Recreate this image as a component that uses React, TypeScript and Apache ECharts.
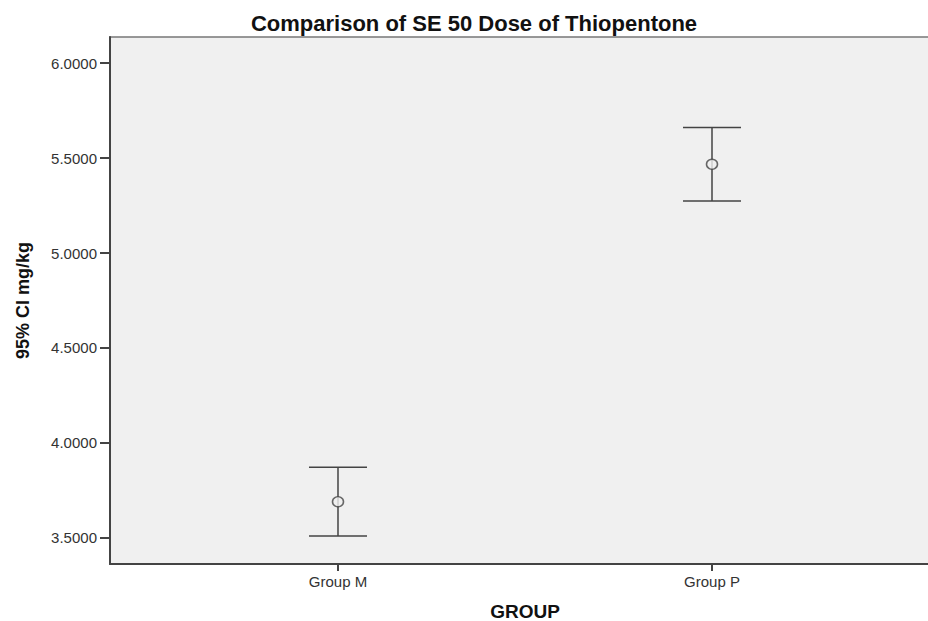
import React, { useEffect, useRef } from "react";
import * as echarts from "echarts";

const categories = ["Group M", "Group P"];
const positions = [1, 2];
const means = [3.691, 5.467];
const lowerCI = [3.511, 5.274];
const upperCI = [3.872, 5.66];
const yTicks = [3.5, 4.0, 4.5, 5.0, 5.5, 6.0];

export default function App() {
  const ref = useRef<HTMLDivElement>(null);
  useEffect(() => {
    if (!ref.current) return;
    const chart = echarts.init(ref.current, undefined, { renderer: "svg" });
    const errData = positions.map((p, i) => [p, lowerCI[i], upperCI[i]]);
    const meanData = positions.map((p, i) => [p, means[i]]);
    chart.setOption({
      animation: false,
      backgroundColor: "#ffffff",
      title: {
        text: "Comparison of SE 50 Dose of Thiopentone",
        left: 469,
        top: 7,
        textAlign: "center",
        textStyle: { fontFamily: "Liberation Sans", fontWeight: "bold", fontSize: 22, color: "#111" },
      },
      grid: {
        left: 110,
        top: 37,
        width: 830,
        height: 527,
        show: true,
        outerBoundsMode: "none",
        containLabel: false,
        backgroundColor: "#f0f0f0",
        borderColor: "#777",
        borderWidth: 1.5,
      },
      xAxis: {
        type: "value",
        min: 0.3904,
        max: 2.6096,
        name: "GROUP",
        nameLocation: "middle",
        nameGap: 38,
        nameTextStyle: { fontFamily: "Liberation Sans", fontWeight: "bold", fontSize: 19, color: "#111" },
        splitLine: { show: false },
        axisLine: { show: true, lineStyle: { color: "#444", width: 2 } },
        axisTick: { show: true, customValues: positions, length: 7, lineStyle: { color: "#444", width: 2 } },
        axisLabel: {
          customValues: positions,
          formatter: (v: number) => categories[positions.indexOf(v)] ?? "",
          fontFamily: "Liberation Sans",
          fontSize: 15,
          color: "#333",
          margin: 10,
        },
      },
      yAxis: {
        type: "value",
        min: 3.363,
        max: 6.137,
        name: "95% CI mg/kg",
        nameLocation: "middle",
        nameGap: 78,
        nameRotate: 90,
        nameTextStyle: { fontFamily: "Liberation Sans", fontWeight: "bold", fontSize: 18, color: "#111" },
        splitLine: { show: false },
        axisLine: { show: true, lineStyle: { color: "#444", width: 2 } },
        axisTick: { show: true, customValues: yTicks, length: 10, lineStyle: { color: "#444", width: 2 } },
        axisLabel: {
          customValues: yTicks,
          formatter: (v: number) => v.toFixed(4),
          fontFamily: "Liberation Sans",
          fontSize: 15,
          color: "#333",
          margin: 13,
        },
      },
      series: [
        {
          type: "custom",
          data: errData,
          renderItem: (params: any, api: any) => {
            const x = api.value(0);
            const lo = api.coord([x, api.value(1)]);
            const hi = api.coord([x, api.value(2)]);
            const hw = 29;
            const style = { stroke: "#444", lineWidth: 1.5 };
            return {
              type: "group",
              children: [
                { type: "line", shape: { x1: lo[0], y1: lo[1], x2: hi[0], y2: hi[1] }, style },
                { type: "line", shape: { x1: lo[0] - hw, y1: lo[1], x2: lo[0] + hw, y2: lo[1] }, style },
                { type: "line", shape: { x1: hi[0] - hw, y1: hi[1], x2: hi[0] + hw, y2: hi[1] }, style },
              ],
            };
          },
          z: 2,
        },
        {
          type: "scatter",
          data: meanData,
          symbol: "circle",
          symbolSize: [11, 10],
          itemStyle: { color: "#f0f0f0", borderColor: "#444", borderWidth: 1.5 },
          z: 3,
        },
      ],
    });
    return () => chart.dispose();
  }, []);
  return <div ref={ref} style={{ width: 928, height: 621, position: "absolute", left: 0, top: 0 }} />;
}
